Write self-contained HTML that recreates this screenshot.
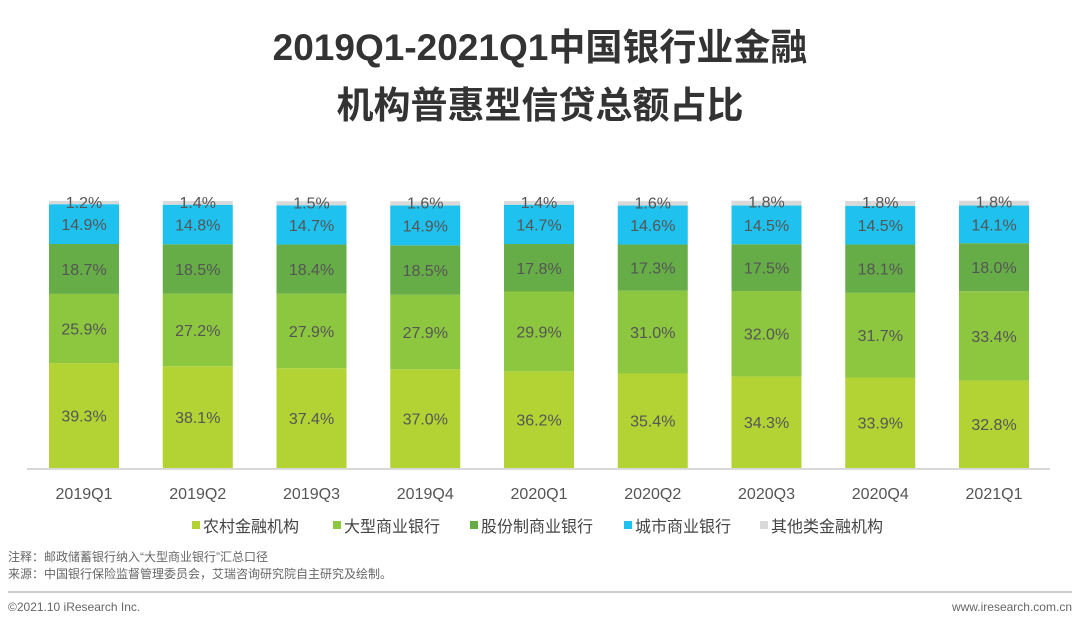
<!DOCTYPE html>
<html><head><meta charset="utf-8"><style>
body{margin:0;width:1080px;height:626px;background:#fff;overflow:hidden;font-family:"Liberation Sans","Noto Sans CJK SC",sans-serif;}
svg text{font-family:"Liberation Sans","Noto Sans CJK SC",sans-serif;}
</style></head><body>
<svg id="c" width="1080" height="626">
<text x="540" y="60" text-anchor="middle" font-size="37" font-weight="bold" fill="#333">2019Q1-2021Q1中国银行业金融</text>
<text x="540" y="118" text-anchor="middle" font-size="37" font-weight="bold" fill="#333">机构普惠型信贷总额占比</text>
<line x1="27" y1="469" x2="1050" y2="469" stroke="#ccc" stroke-width="1.5"/>
<text x="8" y="561" font-size="12" fill="#666">注释：邮政储蓄银行纳入“大型商业银行”汇总口径</text>
<text x="8" y="578" font-size="12" fill="#666">来源：中国银行保险监督管理委员会，艾瑞咨询研究院自主研究及绘制。</text>
<line x1="8" y1="592" x2="1072" y2="592" stroke="#bbb" stroke-width="1.5"/>
<text x="8" y="611" font-size="12" fill="#666">©2021.10 iResearch Inc.</text>
<text x="1072" y="611" font-size="12" fill="#666" text-anchor="end">www.iresearch.com.cn</text>
</svg>
<script>
const categories=["2019Q1","2019Q2","2019Q3","2019Q4","2020Q1","2020Q2","2020Q3","2020Q4","2021Q1"];
const seriesNames=["农村金融机构","大型商业银行","股份制商业银行","城市商业银行","其他类金融机构"];
const rural=[39.3,38.1,37.4,37.0,36.2,35.4,34.3,33.9,32.8];
const large=[25.9,27.2,27.9,27.9,29.9,31.0,32.0,31.7,33.4];
const joint=[18.7,18.5,18.4,18.5,17.8,17.3,17.5,18.1,18.0];
const city=[14.9,14.8,14.7,14.9,14.7,14.6,14.5,14.5,14.1];
const other=[1.2,1.4,1.5,1.6,1.4,1.6,1.8,1.8,1.8];
const series=[rural,large,joint,city,other];
const colors=["#b3d335","#8dc63f","#66ad47","#1fc2ee","#d9d9d9"];
const svg=document.getElementById('c');const NS="http://www.w3.org/2000/svg";
const x0=49,step=113.75,bw=70,base=468,ph=267;
const xs=i=>x0+i*step;const ys=v=>v/100*ph;
function mk(t,a){const e=document.createElementNS(NS,t);for(const k in a)e.setAttribute(k,a[k]);svg.appendChild(e);return e;}
categories.forEach((c,i)=>{
 let acc=0;
 series.forEach((s,k)=>{
  const h=ys(s[i]);const y=base-ys(acc)-h;
  const r=mk('rect',{x:xs(i),y:y,width:bw,height:h,fill:colors[k]});
  
  
  const ty=k===4?y+7:y+h/2+6;
  const t=mk('text',{x:xs(i)+bw/2,y:ty,'text-anchor':'middle','font-size':16,fill:'#555'});
  t.textContent=s[i].toFixed(1)+'%';
  
  
  acc+=s[i];
 });
 const l=mk('text',{x:xs(i)+bw/2,y:499,'text-anchor':'middle','font-size':16,fill:'#555'});
 l.textContent=c;
 
 
});
const lx=[192,333,470,624,760];
seriesNames.forEach((n,k)=>{
 const g=mk('rect',{x:lx[k],y:521,width:8,height:8,fill:colors[k]});
 
 
 const t=mk('text',{x:lx[k]+11,y:532,'font-size':16,fill:'#444'});
 t.textContent=n;
 
 
});
</script>
</body></html>
